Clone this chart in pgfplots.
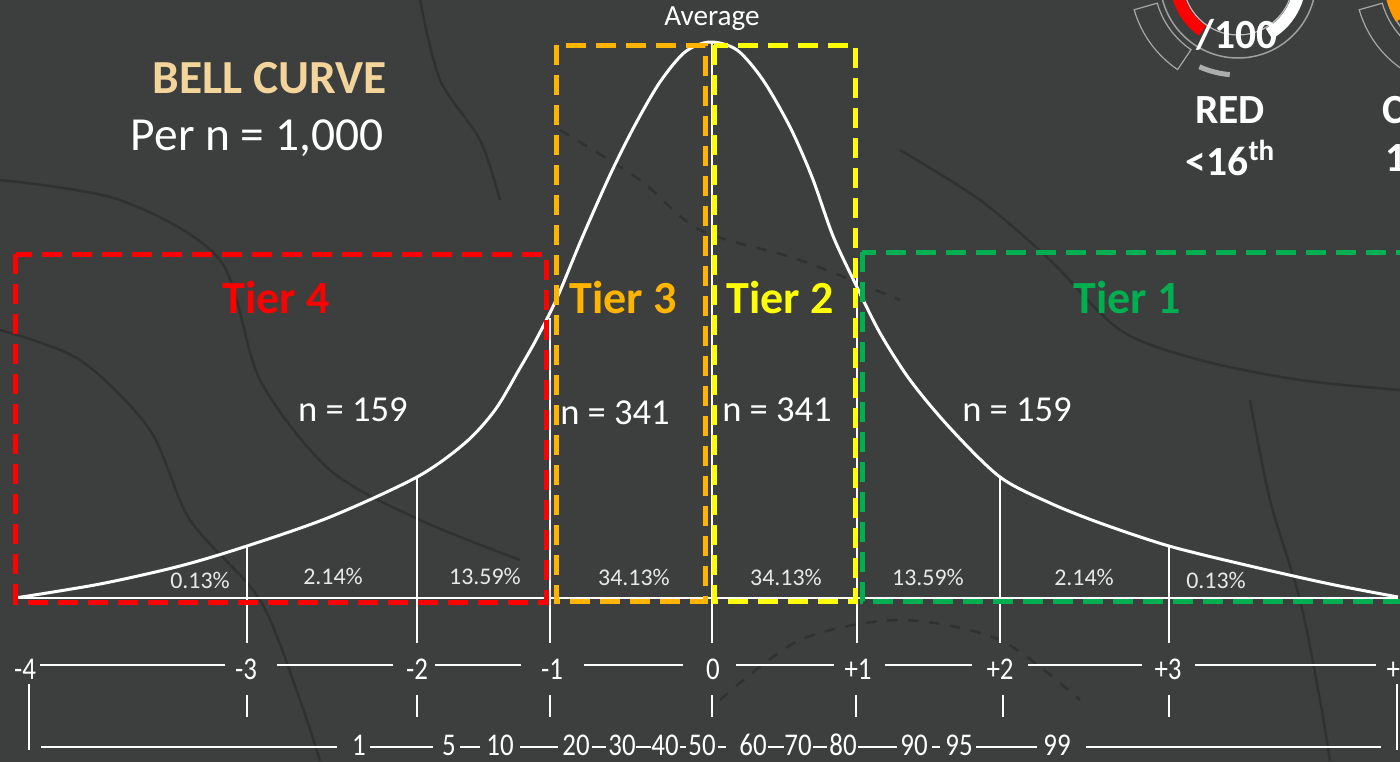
\documentclass[border=0pt]{standalone}
\usepackage{pgfplots}
\pgfplotsset{compat=1.18}
\usepackage{fontspec}
\setmainfont{Carlito}
\definecolor{bg}{HTML}{3D3E3E}
\definecolor{cline}{HTML}{303131}
\definecolor{tred}{HTML}{FF0000}
\definecolor{torange}{HTML}{FFB500}
\definecolor{tyellow}{HTML}{FFFF00}
\definecolor{tgreen}{HTML}{00B050}
\definecolor{gold}{HTML}{F3D59B}
\definecolor{pct}{HTML}{E8E8E8}
\newcommand{\fs}[1]{\fontsize{#1}{#1}\selectfont}
\begin{document}
\begin{tikzpicture}
\begin{axis}[width=14cm, height=7.61cm, scale only axis,
  xmin=0, xmax=1400, ymin=0, ymax=761, y dir=reverse,
  hide axis, clip=true]
% background
\addplot[draw=none, fill=bg] coordinates {(-10,-10) (1410,-10) (1410,771) (-10,771)} \closedcycle;
% faint contour texture
\addplot[cline, line width=0.025cm, smooth] coordinates {(0,180) (120,200) (220,260) (260,380) (330,470) (420,520) (520,560)};
\addplot[cline, line width=0.025cm, smooth] coordinates {(0,330) (80,360) (150,430) (190,520) (260,600) (300,700) (320,761)};
\addplot[cline, line width=0.025cm, smooth, dashed] coordinates {(560,130) (640,180) (700,230) (800,260) (900,300)};
\addplot[cline, line width=0.025cm, smooth] coordinates {(900,150) (980,200) (1050,260) (1120,330) (1200,360) (1300,380) (1400,390)};
\addplot[cline, line width=0.025cm, smooth, dashed] coordinates {(720,700) (800,640) (900,620) (1000,640) (1080,700)};
\addplot[cline, line width=0.025cm, smooth] coordinates {(1250,400) (1270,500) (1300,600) (1320,700) (1330,761)};
\addplot[cline, line width=0.025cm, smooth] coordinates {(420,0) (440,80) (480,140) (500,200)};
% gauge 1
\draw[gray!75, line width=0.015cm] (axis cs:1238,-20) circle (0.78cm);
\draw[gray!55, line width=0.012cm] (axis cs:1238,-20) circle (0.55cm);
\draw[tred, line width=0.12cm] ([shift={(190:0.62cm)}]axis cs:1238,-20) arc (190:235:0.62cm);
\draw[white, line width=0.12cm] ([shift={(300:0.62cm)}]axis cs:1238,-20) arc (300:370:0.62cm);
\draw[gray!70, line width=0.012cm] ([shift={(196:1.08cm)}]axis cs:1238,-20) arc (196:236:1.08cm) -- ([shift={(236:0.84cm)}]axis cs:1238,-20) arc (236:196:0.84cm) -- cycle;
\draw[gray!65, line width=0.05cm] ([shift={(246:0.95cm)}]axis cs:1238,-20) arc (246:265:0.95cm);
% gauge 2 (cut off)
\draw[gray!75, line width=0.015cm] (axis cs:1463,-20) circle (0.78cm);
\draw[gray!70, line width=0.012cm] ([shift={(196:1.08cm)}]axis cs:1463,-20) arc (196:236:1.08cm) -- ([shift={(236:0.84cm)}]axis cs:1463,-20) arc (236:196:0.84cm) -- cycle;
\draw[orange!80!yellow, line width=0.14cm] ([shift={(170:0.72cm)}]axis cs:1463,-20) arc (170:212:0.72cm);
% bell curve
\addplot[white, line width=0.03cm, smooth, tension=0.5] coordinates {
(15,598) (100,584) (180,566) (247,546) (330,517) (417,477) (465,443) (495,410)
(520,368) (537,338) (557,298) (582,238) (610,175) (635,125) (660,82) (685,52)
(710,42) (737,50) (763,80) (790,127) (812,177) (833,236) (855,283) (880,333)
(910,380) (950,428) (1000,477) (1050,503) (1100,523) (1169,546) (1250,566)
(1330,584) (1398,597)};
% vertical guide lines
\addplot[white, line width=0.014cm] coordinates {(247,546) (247,643)};
\addplot[white, line width=0.014cm] coordinates {(417,477) (417,643)};
\addplot[white, line width=0.014cm] coordinates {(550,318) (550,643)};
\addplot[white, line width=0.014cm] coordinates {(712,42) (712,643)};
\addplot[white, line width=0.014cm] coordinates {(857,275) (857,643)};
\addplot[white, line width=0.014cm] coordinates {(1000,477) (1000,643)};
\addplot[white, line width=0.014cm] coordinates {(1169,546) (1169,643)};
% baseline
\addplot[white, line width=0.02cm] coordinates {(15,598) (1398,598)};
% tier boxes
\draw[tred, line width=0.05cm, dash pattern=on 0.2cm off 0.1cm] (axis cs:16,254) rectangle (axis cs:546,602);
\draw[torange, line width=0.05cm, dash pattern=on 0.2cm off 0.1cm] (axis cs:556,45) rectangle (axis cs:705,601);
\draw[tyellow, line width=0.05cm, dash pattern=on 0.2cm off 0.1cm] (axis cs:714,45) rectangle (axis cs:855,601);
\draw[tgreen, line width=0.05cm, dash pattern=on 0.2cm off 0.1cm] (axis cs:862,252) rectangle (axis cs:1420,601);
% row 1 scale
\foreach \a/\b in {40/225, 277/393, 435/521, 584/683, 736/834, 885/972, 1028/1142, 1195/1376}
  {\edef\tmp{\noexpand\draw[white, line width=0.014cm] (axis cs:\a,665) -- (axis cs:\b,665);}\tmp}
\foreach \x/\lab in {25/-4, 246/-3, 417/-2, 552/-1, 713/0, 858/+1, 1000/+2, 1168/+3, 1400/+4}
  {\edef\tmp{\noexpand\node[white, font=\noexpand\fs{9}, xscale=0.85] at (axis cs:\x,669) {\lab};}\tmp}
% ticks
\foreach \x in {247, 417, 550, 712, 856, 1003, 1169}
  {\edef\tmp{\noexpand\draw[white, line width=0.014cm] (axis cs:\x,695) -- (axis cs:\x,717);}\tmp}
\draw[white, line width=0.018cm] (axis cs:29,684) -- (axis cs:29,750);
\draw[white, line width=0.018cm] (axis cs:1397,684) -- (axis cs:1397,750);
% row 2 percentiles
\foreach \a/\b in {41/337, 370/433, 460/480, 520/558, 592/606, 636/651, 680/686, 718/726, 768/784, 813/827, 858/897, 932/940, 976/1037, 1086/1381}
  {\edef\tmp{\noexpand\draw[white, line width=0.014cm] (axis cs:\a,747) -- (axis cs:\b,747);}\tmp}
\foreach \x/\lab in {359/1, 449/5, 500/10, 576/20, 622/30, 665/40, 702/50, 753/60, 798/70, 843/80, 914/90, 959/95, 1057/99}
  {\edef\tmp{\noexpand\node[white, font=\noexpand\fs{9}, xscale=0.85] at (axis cs:\x,745) {\lab};}\tmp}
% percentages
\node[pct, font=\fs{6.8}] at (axis cs:200,580) {0.13\%};
\node[pct, font=\fs{6.8}] at (axis cs:333,576) {2.14\%};
\node[pct, font=\fs{6.8}] at (axis cs:485,576) {13.59\%};
\node[pct, font=\fs{6.8}] at (axis cs:634,577) {34.13\%};
\node[pct, font=\fs{6.8}] at (axis cs:786,577) {34.13\%};
\node[pct, font=\fs{6.8}] at (axis cs:928,577) {13.59\%};
\node[pct, font=\fs{6.8}] at (axis cs:1084,577) {2.14\%};
\node[pct, font=\fs{6.8}] at (axis cs:1216,580) {0.13\%};
% titles
\node[white, font=\fs{8.3}] at (axis cs:712,19) {Average};
\node[gold, font=\fs{13.5}\bfseries] at (axis cs:270,78) {BELL CURVE};
\node[white, font=\fs{13.5}] at (axis cs:257,138) {Per n = 1,000};
% tiers
\node[tred, font=\fs{13.1}\bfseries] at (axis cs:276,298) {Tier 4};
\node[torange, font=\fs{13.1}\bfseries] at (axis cs:623,298) {Tier 3};
\node[tyellow, font=\fs{13.1}\bfseries] at (axis cs:780,298) {Tier 2};
\node[tgreen, font=\fs{13.1}\bfseries] at (axis cs:1127,298) {Tier 1};
\node[white, font=\fs{10.4}] at (axis cs:353,410) {n = 159};
\node[white, font=\fs{10.4}] at (axis cs:615,413) {n = 341};
\node[white, font=\fs{10.4}] at (axis cs:777,410) {n = 341};
\node[white, font=\fs{10.4}] at (axis cs:1017,410) {n = 159};
% top right
\node[white, font=\fs{11.8}\bfseries] at (axis cs:1237,35) {/100};
\node[white, font=\fs{11.8}\bfseries] at (axis cs:1230,110) {RED};
\node[white, font=\fs{11.8}\bfseries] at (axis cs:1231,158) {<16\textsuperscript{th}};
\node[white, font=\fs{11.8}\bfseries, anchor=west, inner sep=0pt] at (axis cs:1382,110) {C};
\node[white, font=\fs{11.8}\bfseries, anchor=west, inner sep=0pt] at (axis cs:1385,158) {1};
\end{axis}
\pgfresetboundingbox
\useasboundingbox (0,0) rectangle (14cm,7.61cm);
\end{tikzpicture}
\end{document}
